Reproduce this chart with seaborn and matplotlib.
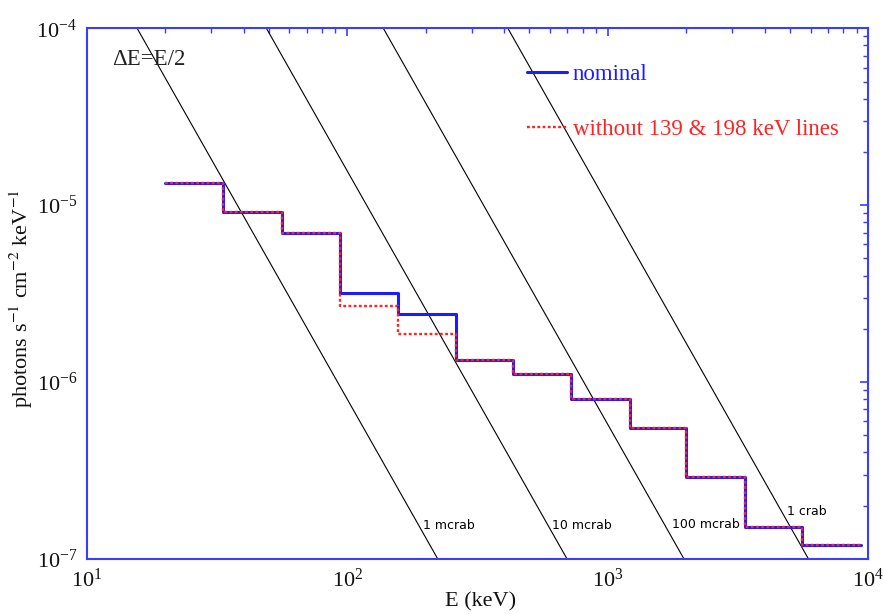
import numpy as np
import pandas as pd
import matplotlib
matplotlib.use("Agg")
import matplotlib.pyplot as plt
import matplotlib.ticker as mticker
from matplotlib.lines import Line2D
import seaborn as sns

# ---------------- data ----------------
bin_edges_kev = [20, 33.4, 56.2, 94, 157, 262, 431, 721, 1216, 1995, 3367, 5570, 9340]
flux_nominal = [1.33e-5, 9.1e-6, 7.0e-6, 3.17e-6, 2.42e-6, 1.33e-6, 1.11e-6,
                7.98e-7, 5.52e-7, 2.92e-7, 1.52e-7, 1.2e-7]
flux_without_lines = [1.33e-5, 9.1e-6, 7.0e-6, 2.69e-6, 1.87e-6, 1.33e-6, 1.11e-6,
                      7.98e-7, 5.52e-7, 2.92e-7, 1.52e-7, 1.2e-7]

crab_labels = ["1 mcrab", "10 mcrab", "100 mcrab", "1 crab"]
crab_flux_at_100kev = [8.0e-7, 1.56e-5, 2.29e-4, 4.0e-3]   # photons/s/cm2/keV at 100 keV
crab_index = 2.6
crab_label_energy = [196, 613, 1758, 4862]
crab_label_flux = [1.47e-7, 1.47e-7, 1.49e-7, 1.78e-7]

series_labels = ["nominal", "without 139 & 198 keV lines"]
x_ticks = [1e1, 1e2, 1e3, 1e4]
y_ticks = [1e-7, 1e-6, 1e-5, 1e-4]

# ---------------- style ----------------
sns.set_theme(style="white")
plt.rcParams["font.family"] = ["Liberation Serif", "DejaVu Serif"]
plt.rcParams["mathtext.fontset"] = "stix"

FRAME = "#3c3cff"
BLUE = "#1c1cff"
RED = "#ff2424"

fig = plt.figure(figsize=(8.83, 6.14), dpi=100)
ax = fig.add_axes([0.0982, 0.0896, 0.8853, 0.8643])
ax.set_xscale("log")
ax.set_yscale("log")

# crab reference lines
E_grid = np.logspace(1, 4, 400)
crab_rows = []
for lab, norm in zip(crab_labels, crab_flux_at_100kev):
    for e in E_grid:
        crab_rows.append({"E": e, "F": norm * (e / 100.0) ** (-crab_index), "crab": lab})
crab_df = pd.DataFrame(crab_rows)
for lab in crab_labels:
    sub = crab_df[crab_df["crab"] == lab]
    sns.lineplot(data=sub, x="E", y="F", ax=ax, color="black", lw=0.8,
                 estimator=None, sort=False, legend=False)

# step spectra
steps = pd.DataFrame({
    "E": bin_edges_kev,
    "nominal": flux_nominal + [flux_nominal[-1]],
    "without": flux_without_lines + [flux_without_lines[-1]],
})
sns.lineplot(data=steps, x="E", y="nominal", ax=ax, color=BLUE, lw=2.2,
             drawstyle="steps-post", estimator=None, sort=False, legend=False)
sns.lineplot(data=steps, x="E", y="without", ax=ax, color=RED, lw=1.7,
             linestyle=(0, (1.2, 1.0)), drawstyle="steps-post",
             estimator=None, sort=False, legend=False)

ax.set_xlim(10, 1e4)
ax.set_ylim(1e-7, 1e-4)

# crab labels
for lab, e, f in zip(crab_labels, crab_label_energy, crab_label_flux):
    ax.text(e, f, lab, fontsize=9, family="DejaVu Sans", color="black",
            ha="left", va="baseline")

ax.text(0.032, 0.931, "ΔE=E/2", transform=ax.transAxes, fontsize=16.5,
        color="#222222", ha="left", va="baseline")

# legend
handles = [Line2D([], [], color=BLUE, lw=2.2),
           Line2D([], [], color=RED, lw=1.7, linestyle=(0, (1.2, 1.0)))]
leg = ax.legend(handles, series_labels, loc="upper left",
                bbox_to_anchor=(0.563, 0.932), frameon=False, fontsize=16.5,
                handlelength=1.75, handletextpad=0.25, labelspacing=1.45,
                borderpad=0, borderaxespad=0)
for t, c in zip(leg.get_texts(), [BLUE, RED]):
    t.set_color(c)

# axes styling
for sp in ax.spines.values():
    sp.set_color(FRAME)
    sp.set_linewidth(1.5)
ax.set_xticks(x_ticks)
ax.set_yticks(y_ticks)
ax.xaxis.set_minor_locator(mticker.LogLocator(base=10, subs=np.arange(2, 10), numticks=20))
ax.yaxis.set_minor_locator(mticker.LogLocator(base=10, subs=np.arange(2, 10), numticks=20))
ax.xaxis.set_minor_formatter(mticker.NullFormatter())
ax.yaxis.set_minor_formatter(mticker.NullFormatter())
ax.tick_params(which="both", direction="in", top=True, right=True,
               color=FRAME, labelsize=16, labelcolor="#111111")
ax.tick_params(which="major", length=6, width=1.2, pad=7)
ax.tick_params(which="minor", length=3.5, width=1.0)

ax.set_xlabel("E (keV)", fontsize=16, color="#111111", labelpad=0)
ax.xaxis.set_label_coords(0.504, -0.062)
ax.set_ylabel("photons s$^{-1}$ cm$^{-2}$ keV$^{-1}$", fontsize=16,
              color="#111111")
ax.yaxis.set_label_coords(-0.066, 0.49)
ax.grid(False)

fig.savefig("out.png", dpi=100)
